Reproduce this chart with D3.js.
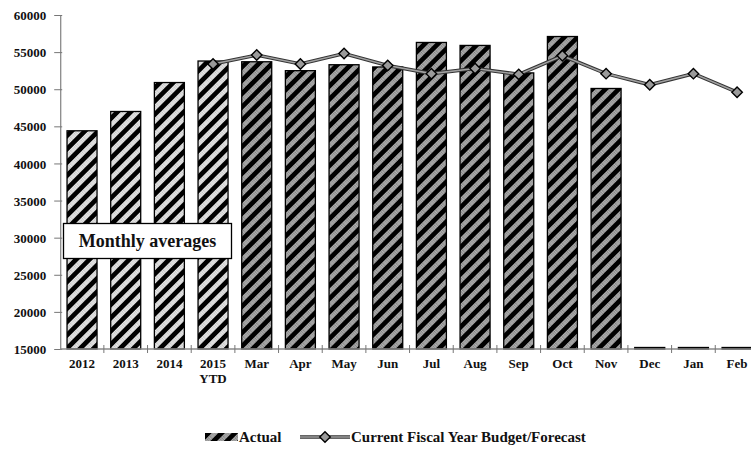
<!DOCTYPE html>
<html>
<head>
<meta charset="utf-8">
<script src="https://cdn.jsdelivr.net/npm/d3@7"></script>
<style>
  body { margin: 0; background: #fff; }
  text { font-family: "Liberation Serif", "Times New Roman", serif; font-weight: bold; fill: #111; }
</style>
</head>
<body>
<div id="chart"></div>
<script>
// Chart data
var categories = ["2012", "2013", "2014", "2015\nYTD", "Mar", "Apr", "May", "Jun", "Jul", "Aug", "Sep", "Oct", "Nov", "Dec", "Jan", "Feb"];
var actual = [44400, 47000, 50900, 53800, 53700, 52500, 53300, 53000, 56300, 55900, 52200, 57100, 50100, 0, 0, 0];
var forecast = [null, null, null, 53400, 54600, 53400, 54800, 53200, 52100, 52800, 52000, 54500, 52100, 50600, 52100, 49600];
var yTicks = [15000, 20000, 25000, 30000, 35000, 40000, 45000, 50000, 55000, 60000];
var yearCount = 4; // first four bars are yearly averages

var svgWidth = 751;
var svgHeight = 453;

var plotLeft = 60.2;
var plotTop = 15;
var plotBottom = 349;
var step = 43.67;

var svg = d3.select("#chart")
            .append("svg")
            .attr("width", svgWidth)
            .attr("height", svgHeight);

// Hatch patterns: diagonal black stripes with grey dotted stripes between
var defs = svg.append("defs");

function addDots(id, bg, dot) {
  var p = defs.append("pattern")
              .attr("id", id)
              .attr("patternUnits", "userSpaceOnUse")
              .attr("width", 2)
              .attr("height", 2);
  p.append("rect").attr("width", 2).attr("height", 2).attr("fill", bg);
  p.append("rect").attr("width", 1).attr("height", 1).attr("fill", dot);
}
addDots("dotsLight", "#f2f2f2", "#a0a0a0");
addDots("dotsDark", "#bdbdbd", "#555555");

function addHatch(id, dotsId) {
  var p = defs.append("pattern")
              .attr("id", id)
              .attr("patternUnits", "userSpaceOnUse")
              .attr("width", 9.4)
              .attr("height", 9.4)
              .attr("patternTransform", "rotate(45)");
  p.append("rect").attr("width", 9.4).attr("height", 9.4).attr("fill", "url(#" + dotsId + ")");
  p.append("rect").attr("width", 4.7).attr("height", 9.4).attr("fill", "#000");
}
addHatch("hatchYear", "dotsLight");
addHatch("hatchMonth", "dotsDark");

// Scales
var xBand = d3.scaleBand()
              .domain(categories)
              .range([plotLeft, plotLeft + step * categories.length])
              .paddingInner(0.313)
              .paddingOuter(0.1565);

var yLinear = d3.scaleLinear()
                .domain([15000, 60000])
                .range([plotBottom, plotTop])
                .clamp(true);

// Y axis
var yAxisGroup = svg.append("g")
                    .attr("transform", `translate(${plotLeft}, 0)`)
                    .call(d3.axisLeft(yLinear)
                            .tickValues(yTicks)
                            .tickFormat(d3.format("d"))
                            .tickSize(6)
                            .tickSizeOuter(0)
                            .tickPadding(8));
yAxisGroup.attr("font-family", null).attr("font-size", null);
yAxisGroup.select(".domain").attr("stroke", "#8a8a8a").attr("stroke-width", 1.3);
yAxisGroup.selectAll(".tick line").attr("stroke", "#777").attr("x2", 2).attr("x1", -6);
yAxisGroup.selectAll(".tick text")
          .attr("font-size", 13)
          .attr("x", -14)
          .attr("dy", "0.35em")
          .attr("fill", "#111");

// Bars
svg.append("g")
   .selectAll("rect")
   .data(actual)
   .enter()
   .append("rect")
   .attr("x", (d, i) => xBand(categories[i]))
   .attr("y", d => Math.min(yLinear(d), plotBottom - 1.5))
   .attr("width", xBand.bandwidth())
   .attr("height", d => Math.max(1.5, plotBottom - yLinear(d)))
   .attr("fill", (d, i) => d < 15000 ? "#111" : (i < yearCount ? "url(#hatchYear)" : "url(#hatchMonth)"))
   .attr("stroke", "#000")
   .attr("stroke-width", 1.3);

// X axis
var xAxisGroup = svg.append("g");
xAxisGroup.append("line")
          .attr("x1", plotLeft).attr("x2", svgWidth)
          .attr("y1", plotBottom).attr("y2", plotBottom)
          .attr("stroke", "#8a8a8a")
          .attr("stroke-width", 1.3);
xAxisGroup.selectAll(".xtick")
          .data(d3.range(1, categories.length + 1))
          .enter()
          .append("line")
          .attr("x1", i => plotLeft + i * xBand.step())
          .attr("x2", i => plotLeft + i * xBand.step())
          .attr("y1", plotBottom - 4)
          .attr("y2", plotBottom + 4)
          .attr("stroke", "#777");
xAxisGroup.selectAll(".xlabel")
          .data(categories)
          .enter()
          .append("text")
          .attr("text-anchor", "middle")
          .attr("font-size", 13)
          .attr("x", d => xBand(d) + xBand.bandwidth() / 2)
          .attr("y", 368)
          .each(function(d) {
            var lines = d.split("\n");
            d3.select(this).selectAll("tspan")
              .data(lines)
              .enter()
              .append("tspan")
              .attr("x", d3.select(this).attr("x"))
              .attr("dy", (t, j) => j == 0 ? 0 : 15)
              .text(t => t);
          });

// Budget / forecast line
var linePath = d3.line()
                 .defined(d => d != null)
                 .x((d, i) => xBand(categories[i]) + xBand.bandwidth() / 2)
                 .y(d => yLinear(d));
var lineGroup = svg.append("g");
lineGroup.append("path")
         .attr("d", linePath(forecast))
         .attr("fill", "none")
         .attr("stroke", "#333")
         .attr("stroke-width", 3.6);
lineGroup.append("path")
         .attr("d", linePath(forecast))
         .attr("fill", "none")
         .attr("stroke", "#a0a0a0")
         .attr("stroke-width", 1.6);

var diamond = d3.symbol().type(d3.symbolDiamond2).size(70);
lineGroup.selectAll(".marker")
         .data(forecast.map((v, i) => ({v: v, c: categories[i]})).filter(d => d.v != null))
         .enter()
         .append("path")
         .attr("d", diamond)
         .attr("transform", d => `translate(${xBand(d.c) + xBand.bandwidth() / 2}, ${yLinear(d.v)})`)
         .attr("fill", "#9a9a9a")
         .attr("stroke", "#000")
         .attr("stroke-width", 1.4);

// "Monthly averages" label box
svg.append("rect")
   .attr("x", 63.5)
   .attr("y", 223.5)
   .attr("width", 168)
   .attr("height", 35)
   .attr("fill", "#fff")
   .attr("stroke", "#000")
   .attr("stroke-width", 1.3);
svg.append("text")
   .attr("x", 147.5)
   .attr("y", 247)
   .attr("text-anchor", "middle")
   .attr("font-size", 18)
   .text("Monthly averages");

// Legend
var legend = svg.append("g");
legend.append("rect")
      .attr("x", 205).attr("y", 433)
      .attr("width", 33).attr("height", 8)
      .attr("fill", "url(#hatchMonth)");
legend.append("text")
      .attr("x", 239).attr("y", 442)
      .attr("font-size", 15)
      .text("Actual");
legend.append("line")
      .attr("x1", 300).attr("x2", 350)
      .attr("y1", 437).attr("y2", 437)
      .attr("stroke", "#333").attr("stroke-width", 3.6);
legend.append("line")
      .attr("x1", 300).attr("x2", 350)
      .attr("y1", 437).attr("y2", 437)
      .attr("stroke", "#a0a0a0").attr("stroke-width", 1.6);
legend.append("path")
      .attr("d", diamond)
      .attr("transform", "translate(325, 437)")
      .attr("fill", "#9a9a9a")
      .attr("stroke", "#000")
      .attr("stroke-width", 1.4);
legend.append("text")
      .attr("x", 351).attr("y", 442)
      .attr("font-size", 15)
      .text("Current Fiscal Year Budget/Forecast");
</script>
</body>
</html>
